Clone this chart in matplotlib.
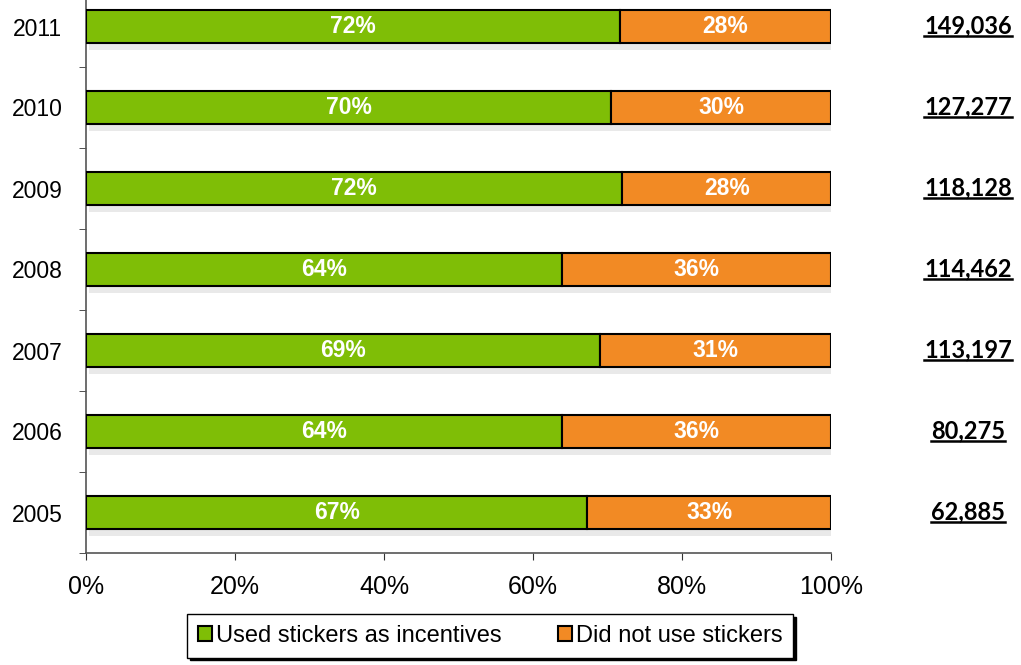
import numpy as np
import matplotlib
matplotlib.use("Agg")
import matplotlib.pyplot as plt
import matplotlib.patheffects as pe
from matplotlib.lines import Line2D

years = ["2011", "2010", "2009", "2008", "2007", "2006", "2005"]
used = [71.7, 70.5, 72.0, 63.9, 69.0, 63.9, 67.3]
used_lbl = ["72%", "70%", "72%", "64%", "69%", "64%", "67%"]
not_used_lbl = ["28%", "30%", "28%", "36%", "31%", "36%", "33%"]
totals = ["149,036", "127,277", "118,128", "114,462", "113,197", "80,275", "62,885"]
xticks = [0, 20, 40, 60, 80, 100]

GREEN = "#7fbe06"
ORANGE = "#f28a24"
plt.rcParams["font.family"] = ["Liberation Sans", "DejaVu Sans"]

fig = plt.figure(figsize=(10.21, 6.65), dpi=100)
W, H = 1021, 665
ax = fig.add_axes([86/W, (H-553)/H, (831-86)/W, (553+14)/H])

y = np.arange(len(years))[::-1]
used = np.array(used)
rest = 100 - used
shadow = [pe.SimplePatchShadow(offset=(2, -5), shadow_rgbFace="#aaaaaa", alpha=0.25), pe.Normal()]
ax.barh(y, used, height=0.4, color=GREEN, edgecolor="black", lw=1.5, path_effects=shadow, zorder=3)
ax.barh(y, rest, left=used, height=0.4, color=ORANGE, edgecolor="black", lw=1.5, path_effects=shadow, zorder=3)

for yi, u, r, lu, lr in zip(y, used, rest, used_lbl, not_used_lbl):
    ax.text(u/2, yi, lu, ha="center", va="center", color="white", fontsize=16.5, fontweight="bold", zorder=5)
    ax.text(u + r/2, yi, lr, ha="center", va="center", color="white", fontsize=16.5, fontweight="bold", zorder=5)

ax.set_xlim(0, 100)
ax.set_ylim(-0.5, len(years) - 0.5)
ax.set_xticks(xticks)
ax.set_xticklabels([f"{v}%" for v in xticks], fontsize=18)
ax.set_yticks(y)
ax.set_yticklabels(years, fontsize=16.5)
ax.set_yticks(np.arange(len(years)) - 0.5, minor=True)
ax.tick_params(axis="y", which="major", length=0, pad=17)
ax.tick_params(axis="y", which="minor", length=5, direction="out", color="#333333")
ax.tick_params(axis="x", length=5, direction="out", pad=11, color="#333333")
for s in ["top", "right"]:
    ax.spines[s].set_visible(False)
for s in ["left", "bottom"]:
    ax.spines[s].set_color("#555555")
    ax.spines[s].set_linewidth(1.2)

handles = [matplotlib.patches.Patch(facecolor=GREEN, edgecolor="black", lw=1.5),
           matplotlib.patches.Patch(facecolor=ORANGE, edgecolor="black", lw=1.5)]
fig.legend(handles, ["Used stickers as incentives", "Did not use stickers"],
           loc="center", bbox_to_anchor=(490/W, 1-636/H), ncol=2, fontsize=17,
           frameon=True, fancybox=False, edgecolor="black", framealpha=1,
           shadow={"color": "black", "alpha": 1},
           handlelength=0.6, handleheight=0.6, handletextpad=0.15, columnspacing=2.4,
           borderpad=0.45, borderaxespad=0)

# totals on the right, underlined
tx = []
for yi, t in zip(y, totals):
    ty = ax.transData.transform((0, yi))[1]
    tx.append(fig.text(968/W, ty/H, t, ha="center", va="baseline", fontsize=17,
                       fontweight="bold", family="Lato"))
fig.canvas.draw()
r = fig.canvas.get_renderer()
for t in tx:
    bb = t.get_window_extent(r)
    t.set_y((t.get_position()[1]*H - bb.height/2 + 5)/H)
fig.canvas.draw()
for t in tx:
    bb = t.get_window_extent(r)
    yl = t.get_position()[1]*H - 3
    fig.add_artist(Line2D([bb.x0/W, bb.x1/W], [yl/H, yl/H], color="black", lw=1.8))

fig.savefig("out.png", dpi=100)
